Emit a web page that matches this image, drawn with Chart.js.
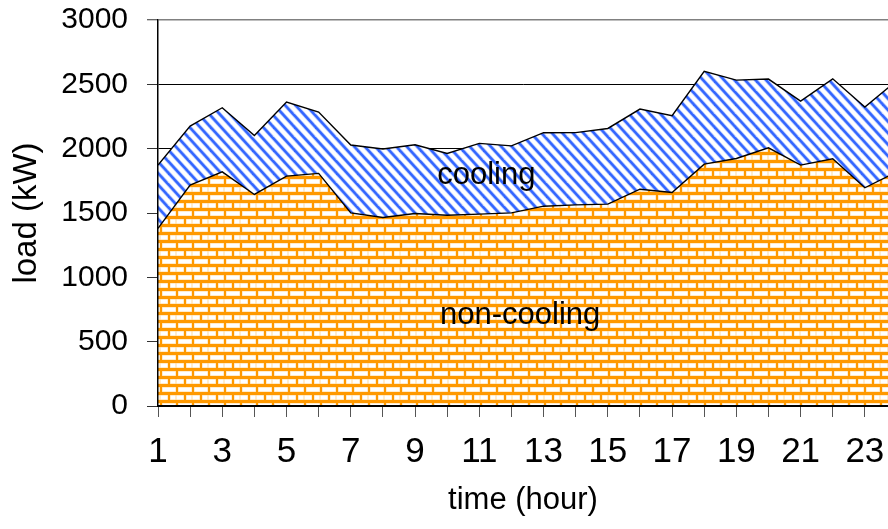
<!DOCTYPE html>
<html>
<head>
<meta charset="utf-8">
<script src="https://cdn.jsdelivr.net/npm/chart.js@4.4.1/dist/chart.umd.min.js"></script>
<style>
  html, body { margin: 0; padding: 0; background: #fff; overflow: hidden; }
  canvas { display: block; }
</style>
</head>
<body>
<canvas id="c" width="888" height="529"></canvas>
<script>
// Hourly electrical load split into non-cooling and cooling parts (kW)
const hours = [1, 2, 3, 4, 5, 6, 7, 8, 9, 10, 11, 12, 13, 14, 15, 16, 17, 18, 19, 20, 21, 22, 23, 24];
const nonCooling = [1380, 1717, 1820, 1644, 1787, 1808, 1501, 1465, 1496, 1483, 1491, 1501,
                    1553, 1563, 1569, 1685, 1660, 1880, 1924, 2007, 1872, 1921, 1696, 1820];
const cooling    = [492, 458, 498, 459, 575, 476, 527, 532, 534, 480, 550, 521,
                    571, 562, 588, 623, 596, 721, 609, 534, 498, 622, 627, 710];
const loadTicks  = [0, 500, 1000, 1500, 2000, 2500, 3000];
const hourLabels = [1, 3, 5, 7, 9, 11, 13, 15, 17, 19, 21, 23];

// In-plot series names, anchored in data units
const seriesNotes = [
  { text: 'cooling',     hour: 11.22, load: 1790 },
  { text: 'non-cooling', hour: 12.27, load: 700 }
];

const FONT = '"Liberation Sans", Arial, Helvetica, sans-serif';

// Orange brick fill
function brickPattern() {
  const c = document.createElement('canvas');
  c.width = 16; c.height = 16;
  const g = c.getContext('2d');
  g.fillStyle = '#FF9900';
  g.fillRect(0, 0, 16, 16);
  const bricks = [
    [2, 3, 14, 5],
    [10, 11, 6, 5], [0, 11, 8, 5]
  ];
  bricks.forEach(([x, y, w, h]) => {
    g.fillStyle = '#FFD89A';
    g.fillRect(x, y, w, h);
    g.fillStyle = '#FFFFFF';
    g.fillRect(x + 0.5, y + 0.5, Math.max(w - 1, 0), h - 1);
  });
  return g.createPattern(c, 'repeat');
}

// Blue downward-diagonal stripes
function stripePattern() {
  const W = 10.5, H = 11.5;
  const c = document.createElement('canvas');
  c.width = 21; c.height = 23;
  const g = c.getContext('2d');
  g.fillStyle = '#FFFFFF';
  g.fillRect(0, 0, c.width, c.height);
  const drawLines = (color, width) => {
    g.strokeStyle = color;
    g.lineWidth = width;
    for (let k = -3; k <= 3; k++) {
      g.beginPath();
      g.moveTo(k * W - 2 * W, -2 * H);
      g.lineTo(k * W + 3 * W, 3 * H);
      g.stroke();
    }
  };
  drawLines('#BCCDFF', 3.9);
  drawLines('#3366FF', 2.5);
  return g.createPattern(c, 'repeat');
}

const notesPlugin = {
  id: 'seriesNotes',
  afterDatasetsDraw(chart) {
    const { ctx, scales: { x, y } } = chart;
    ctx.save();
    ctx.font = '31px ' + FONT;
    ctx.fillStyle = '#000';
    ctx.textAlign = 'center';
    ctx.textBaseline = 'middle';
    seriesNotes.forEach(n => {
      ctx.fillText(n.text, x.getPixelForValue(n.hour), y.getPixelForValue(n.load));
    });
    ctx.restore();
  }
};

const toPoints = arr => hours.map((h, i) => ({ x: h, y: arr[i] }));

new Chart(document.getElementById('c'), {
  type: 'line',
  data: {
    datasets: [
      {
        label: 'non-cooling',
        data: toPoints(nonCooling),
        fill: 'origin',
        backgroundColor: brickPattern(),
        borderColor: '#000',
        borderWidth: 1.4,
        pointRadius: 0,
        tension: 0
      },
      {
        label: 'cooling',
        data: toPoints(cooling),
        fill: '-1',
        backgroundColor: stripePattern(),
        borderColor: '#000',
        borderWidth: 1.4,
        pointRadius: 0,
        tension: 0
      }
    ]
  },
  options: {
    responsive: false,
    animation: false,
    devicePixelRatio: 1,
    layout: { padding: { top: 20, left: 0, right: 0, bottom: 0 } },
    plugins: { legend: { display: false }, tooltip: { enabled: false } },
    scales: {
      x: {
        type: 'linear',
        min: hours[0],
        max: 23.72,
        grid: { drawOnChartArea: false, drawTicks: true, tickLength: 11, tickColor: '#555', tickWidth: 1 },
        border: { display: true, color: '#000', width: 2, z: 1 },
        ticks: {
          stepSize: 1,
          autoSkip: false,
          maxRotation: 0,
          includeBounds: false,
          padding: 14,
          color: '#000',
          font: { family: FONT, size: 35 },
          callback: v => hourLabels.includes(v) ? String(v) : ''
        },
        title: {
          display: true, text: 'time (hour)', color: '#000',
          font: { family: FONT, size: 31 }, padding: { top: 0, bottom: 10 }
        },
        afterFit: s => { s.height = 123; s.paddingLeft = 0; s.paddingRight = 0; }
      },
      y: {
        stacked: true,
        min: loadTicks[0],
        max: loadTicks[loadTicks.length - 1],
        grid: {
          color: c => (c.tick && c.tick.value === 3000) ? '#808080' : '#000',
          lineWidth: c => (c.tick && c.tick.value === 3000) ? 1.5 : 1,
          tickLength: 11, tickColor: '#333', tickWidth: 1
        },
        border: { display: true, color: '#000', width: 1.5, z: 1 },
        ticks: {
          stepSize: 500,
          padding: 19,
          color: '#000',
          font: { family: FONT, size: 30 },
          callback: v => String(v)
        },
        title: {
          display: true, text: 'load (kW)', color: '#000',
          font: { family: FONT, size: 33 }, padding: { top: 7, bottom: 0 }
        },
        afterFit: s => { s.width = 158; s.paddingTop = 0; s.paddingBottom = 0; }
      }
    }
  },
  plugins: [notesPlugin]
});
</script>
</body>
</html>
